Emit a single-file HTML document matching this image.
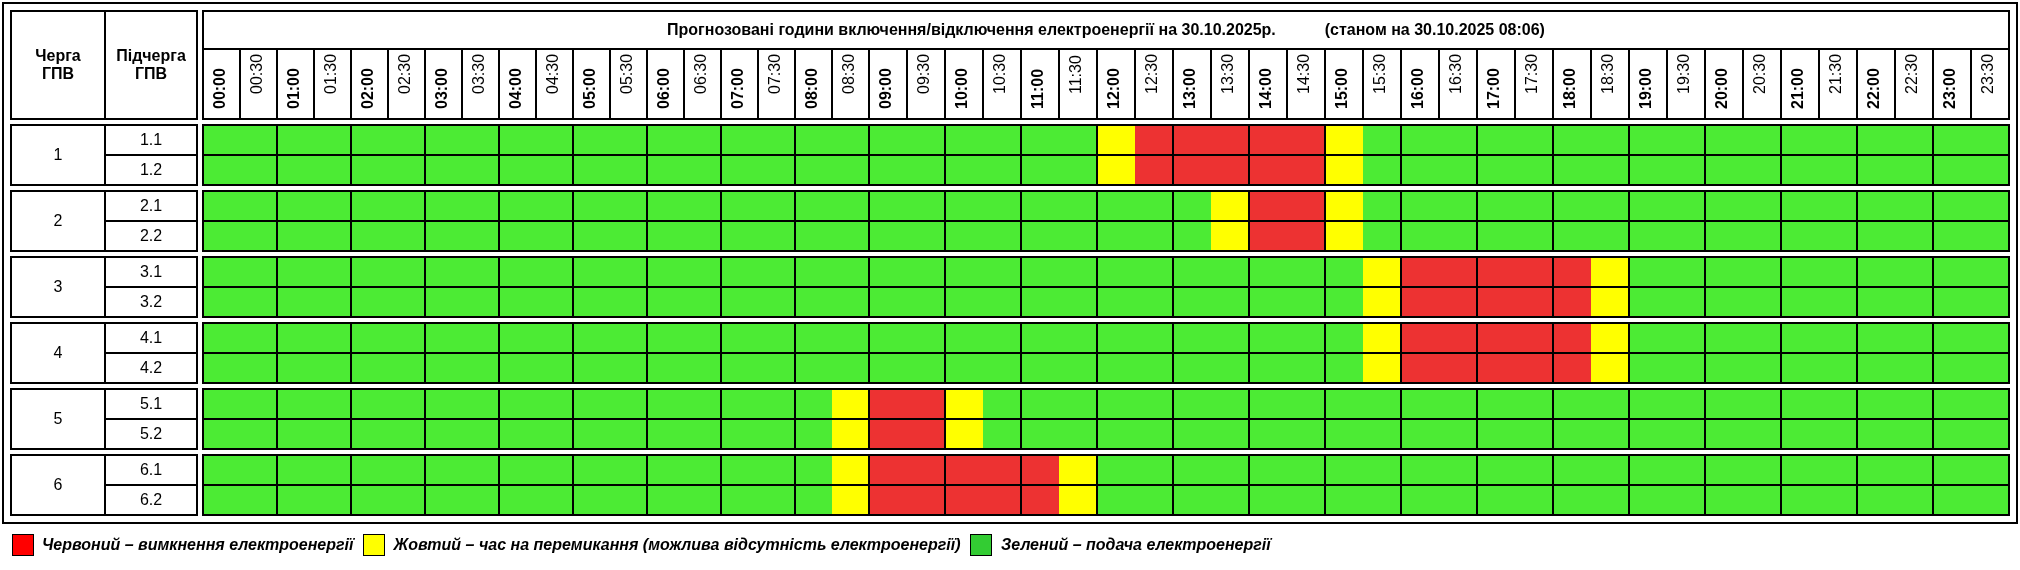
<!DOCTYPE html>
<html><head><meta charset="utf-8"><style>
html,body{margin:0;padding:0;background:#fff;width:2020px;height:570px;overflow:hidden;position:relative}
body{font-family:"Liberation Sans",sans-serif;font-size:16px;color:#000}
.b{position:absolute;box-sizing:content-box}
#tx{position:absolute;left:0;top:0;width:2020px;height:570px;will-change:transform}
.t{position:absolute}
.c{display:flex;align-items:center;justify-content:center;text-align:center}
.bo{font-weight:bold}
.v{position:absolute;white-space:nowrap;transform-origin:0 0;transform:rotate(-90deg);line-height:18px}
.lg{position:absolute;top:536px;font-weight:bold;font-style:italic;white-space:nowrap;line-height:18px}
</style></head><body>
<div class="b" style="left:2px;top:2px;width:2012px;height:518px;border:2px solid #000"></div>
<div class="b" style="left:10px;top:10px;width:184px;height:106px;border:2px solid #000"></div>
<div class="b" style="left:104px;top:10px;width:2px;height:110px;background:#000"></div>
<div class="b" style="left:202px;top:10px;width:1804px;height:106px;border:2px solid #000"></div>
<div class="b" style="left:202px;top:48px;width:1808px;height:2px;background:#000"></div>
<div class="b" style="left:239px;top:48px;width:2px;height:72px;background:#000"></div>
<div class="b" style="left:276px;top:48px;width:2px;height:72px;background:#000"></div>
<div class="b" style="left:313px;top:48px;width:2px;height:72px;background:#000"></div>
<div class="b" style="left:350px;top:48px;width:2px;height:72px;background:#000"></div>
<div class="b" style="left:387px;top:48px;width:2px;height:72px;background:#000"></div>
<div class="b" style="left:424px;top:48px;width:2px;height:72px;background:#000"></div>
<div class="b" style="left:461px;top:48px;width:2px;height:72px;background:#000"></div>
<div class="b" style="left:498px;top:48px;width:2px;height:72px;background:#000"></div>
<div class="b" style="left:535px;top:48px;width:2px;height:72px;background:#000"></div>
<div class="b" style="left:572px;top:48px;width:2px;height:72px;background:#000"></div>
<div class="b" style="left:609px;top:48px;width:2px;height:72px;background:#000"></div>
<div class="b" style="left:646px;top:48px;width:2px;height:72px;background:#000"></div>
<div class="b" style="left:683px;top:48px;width:2px;height:72px;background:#000"></div>
<div class="b" style="left:720px;top:48px;width:2px;height:72px;background:#000"></div>
<div class="b" style="left:757px;top:48px;width:2px;height:72px;background:#000"></div>
<div class="b" style="left:794px;top:48px;width:2px;height:72px;background:#000"></div>
<div class="b" style="left:831px;top:48px;width:2px;height:72px;background:#000"></div>
<div class="b" style="left:868px;top:48px;width:2px;height:72px;background:#000"></div>
<div class="b" style="left:906px;top:48px;width:2px;height:72px;background:#000"></div>
<div class="b" style="left:944px;top:48px;width:2px;height:72px;background:#000"></div>
<div class="b" style="left:982px;top:48px;width:2px;height:72px;background:#000"></div>
<div class="b" style="left:1020px;top:48px;width:2px;height:72px;background:#000"></div>
<div class="b" style="left:1058px;top:48px;width:2px;height:72px;background:#000"></div>
<div class="b" style="left:1096px;top:48px;width:2px;height:72px;background:#000"></div>
<div class="b" style="left:1134px;top:48px;width:2px;height:72px;background:#000"></div>
<div class="b" style="left:1172px;top:48px;width:2px;height:72px;background:#000"></div>
<div class="b" style="left:1210px;top:48px;width:2px;height:72px;background:#000"></div>
<div class="b" style="left:1248px;top:48px;width:2px;height:72px;background:#000"></div>
<div class="b" style="left:1286px;top:48px;width:2px;height:72px;background:#000"></div>
<div class="b" style="left:1324px;top:48px;width:2px;height:72px;background:#000"></div>
<div class="b" style="left:1362px;top:48px;width:2px;height:72px;background:#000"></div>
<div class="b" style="left:1400px;top:48px;width:2px;height:72px;background:#000"></div>
<div class="b" style="left:1438px;top:48px;width:2px;height:72px;background:#000"></div>
<div class="b" style="left:1476px;top:48px;width:2px;height:72px;background:#000"></div>
<div class="b" style="left:1514px;top:48px;width:2px;height:72px;background:#000"></div>
<div class="b" style="left:1552px;top:48px;width:2px;height:72px;background:#000"></div>
<div class="b" style="left:1590px;top:48px;width:2px;height:72px;background:#000"></div>
<div class="b" style="left:1628px;top:48px;width:2px;height:72px;background:#000"></div>
<div class="b" style="left:1666px;top:48px;width:2px;height:72px;background:#000"></div>
<div class="b" style="left:1704px;top:48px;width:2px;height:72px;background:#000"></div>
<div class="b" style="left:1742px;top:48px;width:2px;height:72px;background:#000"></div>
<div class="b" style="left:1780px;top:48px;width:2px;height:72px;background:#000"></div>
<div class="b" style="left:1818px;top:48px;width:2px;height:72px;background:#000"></div>
<div class="b" style="left:1856px;top:48px;width:2px;height:72px;background:#000"></div>
<div class="b" style="left:1894px;top:48px;width:2px;height:72px;background:#000"></div>
<div class="b" style="left:1932px;top:48px;width:2px;height:72px;background:#000"></div>
<div class="b" style="left:1970px;top:48px;width:2px;height:72px;background:#000"></div>
<div class="b" style="left:204px;top:126px;width:36px;height:58px;background:#4ceb34"></div>
<div class="b" style="left:240px;top:126px;width:36px;height:58px;background:#4ceb34"></div>
<div class="b" style="left:278px;top:126px;width:36px;height:58px;background:#4ceb34"></div>
<div class="b" style="left:314px;top:126px;width:36px;height:58px;background:#4ceb34"></div>
<div class="b" style="left:352px;top:126px;width:36px;height:58px;background:#4ceb34"></div>
<div class="b" style="left:388px;top:126px;width:36px;height:58px;background:#4ceb34"></div>
<div class="b" style="left:426px;top:126px;width:36px;height:58px;background:#4ceb34"></div>
<div class="b" style="left:462px;top:126px;width:36px;height:58px;background:#4ceb34"></div>
<div class="b" style="left:500px;top:126px;width:36px;height:58px;background:#4ceb34"></div>
<div class="b" style="left:536px;top:126px;width:36px;height:58px;background:#4ceb34"></div>
<div class="b" style="left:574px;top:126px;width:36px;height:58px;background:#4ceb34"></div>
<div class="b" style="left:610px;top:126px;width:36px;height:58px;background:#4ceb34"></div>
<div class="b" style="left:648px;top:126px;width:36px;height:58px;background:#4ceb34"></div>
<div class="b" style="left:684px;top:126px;width:36px;height:58px;background:#4ceb34"></div>
<div class="b" style="left:722px;top:126px;width:36px;height:58px;background:#4ceb34"></div>
<div class="b" style="left:758px;top:126px;width:36px;height:58px;background:#4ceb34"></div>
<div class="b" style="left:796px;top:126px;width:36px;height:58px;background:#4ceb34"></div>
<div class="b" style="left:832px;top:126px;width:36px;height:58px;background:#4ceb34"></div>
<div class="b" style="left:870px;top:126px;width:37px;height:58px;background:#4ceb34"></div>
<div class="b" style="left:907px;top:126px;width:37px;height:58px;background:#4ceb34"></div>
<div class="b" style="left:946px;top:126px;width:37px;height:58px;background:#4ceb34"></div>
<div class="b" style="left:983px;top:126px;width:37px;height:58px;background:#4ceb34"></div>
<div class="b" style="left:1022px;top:126px;width:37px;height:58px;background:#4ceb34"></div>
<div class="b" style="left:1059px;top:126px;width:37px;height:58px;background:#4ceb34"></div>
<div class="b" style="left:1098px;top:126px;width:37px;height:58px;background:#ffff00"></div>
<div class="b" style="left:1135px;top:126px;width:37px;height:58px;background:#ed3232"></div>
<div class="b" style="left:1174px;top:126px;width:37px;height:58px;background:#ed3232"></div>
<div class="b" style="left:1211px;top:126px;width:37px;height:58px;background:#ed3232"></div>
<div class="b" style="left:1250px;top:126px;width:37px;height:58px;background:#ed3232"></div>
<div class="b" style="left:1287px;top:126px;width:37px;height:58px;background:#ed3232"></div>
<div class="b" style="left:1326px;top:126px;width:37px;height:58px;background:#ffff00"></div>
<div class="b" style="left:1363px;top:126px;width:37px;height:58px;background:#4ceb34"></div>
<div class="b" style="left:1402px;top:126px;width:37px;height:58px;background:#4ceb34"></div>
<div class="b" style="left:1439px;top:126px;width:37px;height:58px;background:#4ceb34"></div>
<div class="b" style="left:1478px;top:126px;width:37px;height:58px;background:#4ceb34"></div>
<div class="b" style="left:1515px;top:126px;width:37px;height:58px;background:#4ceb34"></div>
<div class="b" style="left:1554px;top:126px;width:37px;height:58px;background:#4ceb34"></div>
<div class="b" style="left:1591px;top:126px;width:37px;height:58px;background:#4ceb34"></div>
<div class="b" style="left:1630px;top:126px;width:37px;height:58px;background:#4ceb34"></div>
<div class="b" style="left:1667px;top:126px;width:37px;height:58px;background:#4ceb34"></div>
<div class="b" style="left:1706px;top:126px;width:37px;height:58px;background:#4ceb34"></div>
<div class="b" style="left:1743px;top:126px;width:37px;height:58px;background:#4ceb34"></div>
<div class="b" style="left:1782px;top:126px;width:37px;height:58px;background:#4ceb34"></div>
<div class="b" style="left:1819px;top:126px;width:37px;height:58px;background:#4ceb34"></div>
<div class="b" style="left:1858px;top:126px;width:37px;height:58px;background:#4ceb34"></div>
<div class="b" style="left:1895px;top:126px;width:37px;height:58px;background:#4ceb34"></div>
<div class="b" style="left:1934px;top:126px;width:37px;height:58px;background:#4ceb34"></div>
<div class="b" style="left:1971px;top:126px;width:37px;height:58px;background:#4ceb34"></div>
<div class="b" style="left:10px;top:124px;width:184px;height:58px;border:2px solid #000"></div>
<div class="b" style="left:104px;top:124px;width:2px;height:62px;background:#000"></div>
<div class="b" style="left:104px;top:154px;width:94px;height:2px;background:#000"></div>
<div class="b" style="left:202px;top:124px;width:1804px;height:58px;border:2px solid #000"></div>
<div class="b" style="left:202px;top:154px;width:1808px;height:2px;background:#000"></div>
<div class="b" style="left:276px;top:124px;width:2px;height:62px;background:#000"></div>
<div class="b" style="left:350px;top:124px;width:2px;height:62px;background:#000"></div>
<div class="b" style="left:424px;top:124px;width:2px;height:62px;background:#000"></div>
<div class="b" style="left:498px;top:124px;width:2px;height:62px;background:#000"></div>
<div class="b" style="left:572px;top:124px;width:2px;height:62px;background:#000"></div>
<div class="b" style="left:646px;top:124px;width:2px;height:62px;background:#000"></div>
<div class="b" style="left:720px;top:124px;width:2px;height:62px;background:#000"></div>
<div class="b" style="left:794px;top:124px;width:2px;height:62px;background:#000"></div>
<div class="b" style="left:868px;top:124px;width:2px;height:62px;background:#000"></div>
<div class="b" style="left:944px;top:124px;width:2px;height:62px;background:#000"></div>
<div class="b" style="left:1020px;top:124px;width:2px;height:62px;background:#000"></div>
<div class="b" style="left:1096px;top:124px;width:2px;height:62px;background:#000"></div>
<div class="b" style="left:1172px;top:124px;width:2px;height:62px;background:#000"></div>
<div class="b" style="left:1248px;top:124px;width:2px;height:62px;background:#000"></div>
<div class="b" style="left:1324px;top:124px;width:2px;height:62px;background:#000"></div>
<div class="b" style="left:1400px;top:124px;width:2px;height:62px;background:#000"></div>
<div class="b" style="left:1476px;top:124px;width:2px;height:62px;background:#000"></div>
<div class="b" style="left:1552px;top:124px;width:2px;height:62px;background:#000"></div>
<div class="b" style="left:1628px;top:124px;width:2px;height:62px;background:#000"></div>
<div class="b" style="left:1704px;top:124px;width:2px;height:62px;background:#000"></div>
<div class="b" style="left:1780px;top:124px;width:2px;height:62px;background:#000"></div>
<div class="b" style="left:1856px;top:124px;width:2px;height:62px;background:#000"></div>
<div class="b" style="left:1932px;top:124px;width:2px;height:62px;background:#000"></div>
<div class="b" style="left:204px;top:192px;width:36px;height:58px;background:#4ceb34"></div>
<div class="b" style="left:240px;top:192px;width:36px;height:58px;background:#4ceb34"></div>
<div class="b" style="left:278px;top:192px;width:36px;height:58px;background:#4ceb34"></div>
<div class="b" style="left:314px;top:192px;width:36px;height:58px;background:#4ceb34"></div>
<div class="b" style="left:352px;top:192px;width:36px;height:58px;background:#4ceb34"></div>
<div class="b" style="left:388px;top:192px;width:36px;height:58px;background:#4ceb34"></div>
<div class="b" style="left:426px;top:192px;width:36px;height:58px;background:#4ceb34"></div>
<div class="b" style="left:462px;top:192px;width:36px;height:58px;background:#4ceb34"></div>
<div class="b" style="left:500px;top:192px;width:36px;height:58px;background:#4ceb34"></div>
<div class="b" style="left:536px;top:192px;width:36px;height:58px;background:#4ceb34"></div>
<div class="b" style="left:574px;top:192px;width:36px;height:58px;background:#4ceb34"></div>
<div class="b" style="left:610px;top:192px;width:36px;height:58px;background:#4ceb34"></div>
<div class="b" style="left:648px;top:192px;width:36px;height:58px;background:#4ceb34"></div>
<div class="b" style="left:684px;top:192px;width:36px;height:58px;background:#4ceb34"></div>
<div class="b" style="left:722px;top:192px;width:36px;height:58px;background:#4ceb34"></div>
<div class="b" style="left:758px;top:192px;width:36px;height:58px;background:#4ceb34"></div>
<div class="b" style="left:796px;top:192px;width:36px;height:58px;background:#4ceb34"></div>
<div class="b" style="left:832px;top:192px;width:36px;height:58px;background:#4ceb34"></div>
<div class="b" style="left:870px;top:192px;width:37px;height:58px;background:#4ceb34"></div>
<div class="b" style="left:907px;top:192px;width:37px;height:58px;background:#4ceb34"></div>
<div class="b" style="left:946px;top:192px;width:37px;height:58px;background:#4ceb34"></div>
<div class="b" style="left:983px;top:192px;width:37px;height:58px;background:#4ceb34"></div>
<div class="b" style="left:1022px;top:192px;width:37px;height:58px;background:#4ceb34"></div>
<div class="b" style="left:1059px;top:192px;width:37px;height:58px;background:#4ceb34"></div>
<div class="b" style="left:1098px;top:192px;width:37px;height:58px;background:#4ceb34"></div>
<div class="b" style="left:1135px;top:192px;width:37px;height:58px;background:#4ceb34"></div>
<div class="b" style="left:1174px;top:192px;width:37px;height:58px;background:#4ceb34"></div>
<div class="b" style="left:1211px;top:192px;width:37px;height:58px;background:#ffff00"></div>
<div class="b" style="left:1250px;top:192px;width:37px;height:58px;background:#ed3232"></div>
<div class="b" style="left:1287px;top:192px;width:37px;height:58px;background:#ed3232"></div>
<div class="b" style="left:1326px;top:192px;width:37px;height:58px;background:#ffff00"></div>
<div class="b" style="left:1363px;top:192px;width:37px;height:58px;background:#4ceb34"></div>
<div class="b" style="left:1402px;top:192px;width:37px;height:58px;background:#4ceb34"></div>
<div class="b" style="left:1439px;top:192px;width:37px;height:58px;background:#4ceb34"></div>
<div class="b" style="left:1478px;top:192px;width:37px;height:58px;background:#4ceb34"></div>
<div class="b" style="left:1515px;top:192px;width:37px;height:58px;background:#4ceb34"></div>
<div class="b" style="left:1554px;top:192px;width:37px;height:58px;background:#4ceb34"></div>
<div class="b" style="left:1591px;top:192px;width:37px;height:58px;background:#4ceb34"></div>
<div class="b" style="left:1630px;top:192px;width:37px;height:58px;background:#4ceb34"></div>
<div class="b" style="left:1667px;top:192px;width:37px;height:58px;background:#4ceb34"></div>
<div class="b" style="left:1706px;top:192px;width:37px;height:58px;background:#4ceb34"></div>
<div class="b" style="left:1743px;top:192px;width:37px;height:58px;background:#4ceb34"></div>
<div class="b" style="left:1782px;top:192px;width:37px;height:58px;background:#4ceb34"></div>
<div class="b" style="left:1819px;top:192px;width:37px;height:58px;background:#4ceb34"></div>
<div class="b" style="left:1858px;top:192px;width:37px;height:58px;background:#4ceb34"></div>
<div class="b" style="left:1895px;top:192px;width:37px;height:58px;background:#4ceb34"></div>
<div class="b" style="left:1934px;top:192px;width:37px;height:58px;background:#4ceb34"></div>
<div class="b" style="left:1971px;top:192px;width:37px;height:58px;background:#4ceb34"></div>
<div class="b" style="left:10px;top:190px;width:184px;height:58px;border:2px solid #000"></div>
<div class="b" style="left:104px;top:190px;width:2px;height:62px;background:#000"></div>
<div class="b" style="left:104px;top:220px;width:94px;height:2px;background:#000"></div>
<div class="b" style="left:202px;top:190px;width:1804px;height:58px;border:2px solid #000"></div>
<div class="b" style="left:202px;top:220px;width:1808px;height:2px;background:#000"></div>
<div class="b" style="left:276px;top:190px;width:2px;height:62px;background:#000"></div>
<div class="b" style="left:350px;top:190px;width:2px;height:62px;background:#000"></div>
<div class="b" style="left:424px;top:190px;width:2px;height:62px;background:#000"></div>
<div class="b" style="left:498px;top:190px;width:2px;height:62px;background:#000"></div>
<div class="b" style="left:572px;top:190px;width:2px;height:62px;background:#000"></div>
<div class="b" style="left:646px;top:190px;width:2px;height:62px;background:#000"></div>
<div class="b" style="left:720px;top:190px;width:2px;height:62px;background:#000"></div>
<div class="b" style="left:794px;top:190px;width:2px;height:62px;background:#000"></div>
<div class="b" style="left:868px;top:190px;width:2px;height:62px;background:#000"></div>
<div class="b" style="left:944px;top:190px;width:2px;height:62px;background:#000"></div>
<div class="b" style="left:1020px;top:190px;width:2px;height:62px;background:#000"></div>
<div class="b" style="left:1096px;top:190px;width:2px;height:62px;background:#000"></div>
<div class="b" style="left:1172px;top:190px;width:2px;height:62px;background:#000"></div>
<div class="b" style="left:1248px;top:190px;width:2px;height:62px;background:#000"></div>
<div class="b" style="left:1324px;top:190px;width:2px;height:62px;background:#000"></div>
<div class="b" style="left:1400px;top:190px;width:2px;height:62px;background:#000"></div>
<div class="b" style="left:1476px;top:190px;width:2px;height:62px;background:#000"></div>
<div class="b" style="left:1552px;top:190px;width:2px;height:62px;background:#000"></div>
<div class="b" style="left:1628px;top:190px;width:2px;height:62px;background:#000"></div>
<div class="b" style="left:1704px;top:190px;width:2px;height:62px;background:#000"></div>
<div class="b" style="left:1780px;top:190px;width:2px;height:62px;background:#000"></div>
<div class="b" style="left:1856px;top:190px;width:2px;height:62px;background:#000"></div>
<div class="b" style="left:1932px;top:190px;width:2px;height:62px;background:#000"></div>
<div class="b" style="left:204px;top:258px;width:36px;height:58px;background:#4ceb34"></div>
<div class="b" style="left:240px;top:258px;width:36px;height:58px;background:#4ceb34"></div>
<div class="b" style="left:278px;top:258px;width:36px;height:58px;background:#4ceb34"></div>
<div class="b" style="left:314px;top:258px;width:36px;height:58px;background:#4ceb34"></div>
<div class="b" style="left:352px;top:258px;width:36px;height:58px;background:#4ceb34"></div>
<div class="b" style="left:388px;top:258px;width:36px;height:58px;background:#4ceb34"></div>
<div class="b" style="left:426px;top:258px;width:36px;height:58px;background:#4ceb34"></div>
<div class="b" style="left:462px;top:258px;width:36px;height:58px;background:#4ceb34"></div>
<div class="b" style="left:500px;top:258px;width:36px;height:58px;background:#4ceb34"></div>
<div class="b" style="left:536px;top:258px;width:36px;height:58px;background:#4ceb34"></div>
<div class="b" style="left:574px;top:258px;width:36px;height:58px;background:#4ceb34"></div>
<div class="b" style="left:610px;top:258px;width:36px;height:58px;background:#4ceb34"></div>
<div class="b" style="left:648px;top:258px;width:36px;height:58px;background:#4ceb34"></div>
<div class="b" style="left:684px;top:258px;width:36px;height:58px;background:#4ceb34"></div>
<div class="b" style="left:722px;top:258px;width:36px;height:58px;background:#4ceb34"></div>
<div class="b" style="left:758px;top:258px;width:36px;height:58px;background:#4ceb34"></div>
<div class="b" style="left:796px;top:258px;width:36px;height:58px;background:#4ceb34"></div>
<div class="b" style="left:832px;top:258px;width:36px;height:58px;background:#4ceb34"></div>
<div class="b" style="left:870px;top:258px;width:37px;height:58px;background:#4ceb34"></div>
<div class="b" style="left:907px;top:258px;width:37px;height:58px;background:#4ceb34"></div>
<div class="b" style="left:946px;top:258px;width:37px;height:58px;background:#4ceb34"></div>
<div class="b" style="left:983px;top:258px;width:37px;height:58px;background:#4ceb34"></div>
<div class="b" style="left:1022px;top:258px;width:37px;height:58px;background:#4ceb34"></div>
<div class="b" style="left:1059px;top:258px;width:37px;height:58px;background:#4ceb34"></div>
<div class="b" style="left:1098px;top:258px;width:37px;height:58px;background:#4ceb34"></div>
<div class="b" style="left:1135px;top:258px;width:37px;height:58px;background:#4ceb34"></div>
<div class="b" style="left:1174px;top:258px;width:37px;height:58px;background:#4ceb34"></div>
<div class="b" style="left:1211px;top:258px;width:37px;height:58px;background:#4ceb34"></div>
<div class="b" style="left:1250px;top:258px;width:37px;height:58px;background:#4ceb34"></div>
<div class="b" style="left:1287px;top:258px;width:37px;height:58px;background:#4ceb34"></div>
<div class="b" style="left:1326px;top:258px;width:37px;height:58px;background:#4ceb34"></div>
<div class="b" style="left:1363px;top:258px;width:37px;height:58px;background:#ffff00"></div>
<div class="b" style="left:1402px;top:258px;width:37px;height:58px;background:#ed3232"></div>
<div class="b" style="left:1439px;top:258px;width:37px;height:58px;background:#ed3232"></div>
<div class="b" style="left:1478px;top:258px;width:37px;height:58px;background:#ed3232"></div>
<div class="b" style="left:1515px;top:258px;width:37px;height:58px;background:#ed3232"></div>
<div class="b" style="left:1554px;top:258px;width:37px;height:58px;background:#ed3232"></div>
<div class="b" style="left:1591px;top:258px;width:37px;height:58px;background:#ffff00"></div>
<div class="b" style="left:1630px;top:258px;width:37px;height:58px;background:#4ceb34"></div>
<div class="b" style="left:1667px;top:258px;width:37px;height:58px;background:#4ceb34"></div>
<div class="b" style="left:1706px;top:258px;width:37px;height:58px;background:#4ceb34"></div>
<div class="b" style="left:1743px;top:258px;width:37px;height:58px;background:#4ceb34"></div>
<div class="b" style="left:1782px;top:258px;width:37px;height:58px;background:#4ceb34"></div>
<div class="b" style="left:1819px;top:258px;width:37px;height:58px;background:#4ceb34"></div>
<div class="b" style="left:1858px;top:258px;width:37px;height:58px;background:#4ceb34"></div>
<div class="b" style="left:1895px;top:258px;width:37px;height:58px;background:#4ceb34"></div>
<div class="b" style="left:1934px;top:258px;width:37px;height:58px;background:#4ceb34"></div>
<div class="b" style="left:1971px;top:258px;width:37px;height:58px;background:#4ceb34"></div>
<div class="b" style="left:10px;top:256px;width:184px;height:58px;border:2px solid #000"></div>
<div class="b" style="left:104px;top:256px;width:2px;height:62px;background:#000"></div>
<div class="b" style="left:104px;top:286px;width:94px;height:2px;background:#000"></div>
<div class="b" style="left:202px;top:256px;width:1804px;height:58px;border:2px solid #000"></div>
<div class="b" style="left:202px;top:286px;width:1808px;height:2px;background:#000"></div>
<div class="b" style="left:276px;top:256px;width:2px;height:62px;background:#000"></div>
<div class="b" style="left:350px;top:256px;width:2px;height:62px;background:#000"></div>
<div class="b" style="left:424px;top:256px;width:2px;height:62px;background:#000"></div>
<div class="b" style="left:498px;top:256px;width:2px;height:62px;background:#000"></div>
<div class="b" style="left:572px;top:256px;width:2px;height:62px;background:#000"></div>
<div class="b" style="left:646px;top:256px;width:2px;height:62px;background:#000"></div>
<div class="b" style="left:720px;top:256px;width:2px;height:62px;background:#000"></div>
<div class="b" style="left:794px;top:256px;width:2px;height:62px;background:#000"></div>
<div class="b" style="left:868px;top:256px;width:2px;height:62px;background:#000"></div>
<div class="b" style="left:944px;top:256px;width:2px;height:62px;background:#000"></div>
<div class="b" style="left:1020px;top:256px;width:2px;height:62px;background:#000"></div>
<div class="b" style="left:1096px;top:256px;width:2px;height:62px;background:#000"></div>
<div class="b" style="left:1172px;top:256px;width:2px;height:62px;background:#000"></div>
<div class="b" style="left:1248px;top:256px;width:2px;height:62px;background:#000"></div>
<div class="b" style="left:1324px;top:256px;width:2px;height:62px;background:#000"></div>
<div class="b" style="left:1400px;top:256px;width:2px;height:62px;background:#000"></div>
<div class="b" style="left:1476px;top:256px;width:2px;height:62px;background:#000"></div>
<div class="b" style="left:1552px;top:256px;width:2px;height:62px;background:#000"></div>
<div class="b" style="left:1628px;top:256px;width:2px;height:62px;background:#000"></div>
<div class="b" style="left:1704px;top:256px;width:2px;height:62px;background:#000"></div>
<div class="b" style="left:1780px;top:256px;width:2px;height:62px;background:#000"></div>
<div class="b" style="left:1856px;top:256px;width:2px;height:62px;background:#000"></div>
<div class="b" style="left:1932px;top:256px;width:2px;height:62px;background:#000"></div>
<div class="b" style="left:204px;top:324px;width:36px;height:58px;background:#4ceb34"></div>
<div class="b" style="left:240px;top:324px;width:36px;height:58px;background:#4ceb34"></div>
<div class="b" style="left:278px;top:324px;width:36px;height:58px;background:#4ceb34"></div>
<div class="b" style="left:314px;top:324px;width:36px;height:58px;background:#4ceb34"></div>
<div class="b" style="left:352px;top:324px;width:36px;height:58px;background:#4ceb34"></div>
<div class="b" style="left:388px;top:324px;width:36px;height:58px;background:#4ceb34"></div>
<div class="b" style="left:426px;top:324px;width:36px;height:58px;background:#4ceb34"></div>
<div class="b" style="left:462px;top:324px;width:36px;height:58px;background:#4ceb34"></div>
<div class="b" style="left:500px;top:324px;width:36px;height:58px;background:#4ceb34"></div>
<div class="b" style="left:536px;top:324px;width:36px;height:58px;background:#4ceb34"></div>
<div class="b" style="left:574px;top:324px;width:36px;height:58px;background:#4ceb34"></div>
<div class="b" style="left:610px;top:324px;width:36px;height:58px;background:#4ceb34"></div>
<div class="b" style="left:648px;top:324px;width:36px;height:58px;background:#4ceb34"></div>
<div class="b" style="left:684px;top:324px;width:36px;height:58px;background:#4ceb34"></div>
<div class="b" style="left:722px;top:324px;width:36px;height:58px;background:#4ceb34"></div>
<div class="b" style="left:758px;top:324px;width:36px;height:58px;background:#4ceb34"></div>
<div class="b" style="left:796px;top:324px;width:36px;height:58px;background:#4ceb34"></div>
<div class="b" style="left:832px;top:324px;width:36px;height:58px;background:#4ceb34"></div>
<div class="b" style="left:870px;top:324px;width:37px;height:58px;background:#4ceb34"></div>
<div class="b" style="left:907px;top:324px;width:37px;height:58px;background:#4ceb34"></div>
<div class="b" style="left:946px;top:324px;width:37px;height:58px;background:#4ceb34"></div>
<div class="b" style="left:983px;top:324px;width:37px;height:58px;background:#4ceb34"></div>
<div class="b" style="left:1022px;top:324px;width:37px;height:58px;background:#4ceb34"></div>
<div class="b" style="left:1059px;top:324px;width:37px;height:58px;background:#4ceb34"></div>
<div class="b" style="left:1098px;top:324px;width:37px;height:58px;background:#4ceb34"></div>
<div class="b" style="left:1135px;top:324px;width:37px;height:58px;background:#4ceb34"></div>
<div class="b" style="left:1174px;top:324px;width:37px;height:58px;background:#4ceb34"></div>
<div class="b" style="left:1211px;top:324px;width:37px;height:58px;background:#4ceb34"></div>
<div class="b" style="left:1250px;top:324px;width:37px;height:58px;background:#4ceb34"></div>
<div class="b" style="left:1287px;top:324px;width:37px;height:58px;background:#4ceb34"></div>
<div class="b" style="left:1326px;top:324px;width:37px;height:58px;background:#4ceb34"></div>
<div class="b" style="left:1363px;top:324px;width:37px;height:58px;background:#ffff00"></div>
<div class="b" style="left:1402px;top:324px;width:37px;height:58px;background:#ed3232"></div>
<div class="b" style="left:1439px;top:324px;width:37px;height:58px;background:#ed3232"></div>
<div class="b" style="left:1478px;top:324px;width:37px;height:58px;background:#ed3232"></div>
<div class="b" style="left:1515px;top:324px;width:37px;height:58px;background:#ed3232"></div>
<div class="b" style="left:1554px;top:324px;width:37px;height:58px;background:#ed3232"></div>
<div class="b" style="left:1591px;top:324px;width:37px;height:58px;background:#ffff00"></div>
<div class="b" style="left:1630px;top:324px;width:37px;height:58px;background:#4ceb34"></div>
<div class="b" style="left:1667px;top:324px;width:37px;height:58px;background:#4ceb34"></div>
<div class="b" style="left:1706px;top:324px;width:37px;height:58px;background:#4ceb34"></div>
<div class="b" style="left:1743px;top:324px;width:37px;height:58px;background:#4ceb34"></div>
<div class="b" style="left:1782px;top:324px;width:37px;height:58px;background:#4ceb34"></div>
<div class="b" style="left:1819px;top:324px;width:37px;height:58px;background:#4ceb34"></div>
<div class="b" style="left:1858px;top:324px;width:37px;height:58px;background:#4ceb34"></div>
<div class="b" style="left:1895px;top:324px;width:37px;height:58px;background:#4ceb34"></div>
<div class="b" style="left:1934px;top:324px;width:37px;height:58px;background:#4ceb34"></div>
<div class="b" style="left:1971px;top:324px;width:37px;height:58px;background:#4ceb34"></div>
<div class="b" style="left:10px;top:322px;width:184px;height:58px;border:2px solid #000"></div>
<div class="b" style="left:104px;top:322px;width:2px;height:62px;background:#000"></div>
<div class="b" style="left:104px;top:352px;width:94px;height:2px;background:#000"></div>
<div class="b" style="left:202px;top:322px;width:1804px;height:58px;border:2px solid #000"></div>
<div class="b" style="left:202px;top:352px;width:1808px;height:2px;background:#000"></div>
<div class="b" style="left:276px;top:322px;width:2px;height:62px;background:#000"></div>
<div class="b" style="left:350px;top:322px;width:2px;height:62px;background:#000"></div>
<div class="b" style="left:424px;top:322px;width:2px;height:62px;background:#000"></div>
<div class="b" style="left:498px;top:322px;width:2px;height:62px;background:#000"></div>
<div class="b" style="left:572px;top:322px;width:2px;height:62px;background:#000"></div>
<div class="b" style="left:646px;top:322px;width:2px;height:62px;background:#000"></div>
<div class="b" style="left:720px;top:322px;width:2px;height:62px;background:#000"></div>
<div class="b" style="left:794px;top:322px;width:2px;height:62px;background:#000"></div>
<div class="b" style="left:868px;top:322px;width:2px;height:62px;background:#000"></div>
<div class="b" style="left:944px;top:322px;width:2px;height:62px;background:#000"></div>
<div class="b" style="left:1020px;top:322px;width:2px;height:62px;background:#000"></div>
<div class="b" style="left:1096px;top:322px;width:2px;height:62px;background:#000"></div>
<div class="b" style="left:1172px;top:322px;width:2px;height:62px;background:#000"></div>
<div class="b" style="left:1248px;top:322px;width:2px;height:62px;background:#000"></div>
<div class="b" style="left:1324px;top:322px;width:2px;height:62px;background:#000"></div>
<div class="b" style="left:1400px;top:322px;width:2px;height:62px;background:#000"></div>
<div class="b" style="left:1476px;top:322px;width:2px;height:62px;background:#000"></div>
<div class="b" style="left:1552px;top:322px;width:2px;height:62px;background:#000"></div>
<div class="b" style="left:1628px;top:322px;width:2px;height:62px;background:#000"></div>
<div class="b" style="left:1704px;top:322px;width:2px;height:62px;background:#000"></div>
<div class="b" style="left:1780px;top:322px;width:2px;height:62px;background:#000"></div>
<div class="b" style="left:1856px;top:322px;width:2px;height:62px;background:#000"></div>
<div class="b" style="left:1932px;top:322px;width:2px;height:62px;background:#000"></div>
<div class="b" style="left:204px;top:390px;width:36px;height:58px;background:#4ceb34"></div>
<div class="b" style="left:240px;top:390px;width:36px;height:58px;background:#4ceb34"></div>
<div class="b" style="left:278px;top:390px;width:36px;height:58px;background:#4ceb34"></div>
<div class="b" style="left:314px;top:390px;width:36px;height:58px;background:#4ceb34"></div>
<div class="b" style="left:352px;top:390px;width:36px;height:58px;background:#4ceb34"></div>
<div class="b" style="left:388px;top:390px;width:36px;height:58px;background:#4ceb34"></div>
<div class="b" style="left:426px;top:390px;width:36px;height:58px;background:#4ceb34"></div>
<div class="b" style="left:462px;top:390px;width:36px;height:58px;background:#4ceb34"></div>
<div class="b" style="left:500px;top:390px;width:36px;height:58px;background:#4ceb34"></div>
<div class="b" style="left:536px;top:390px;width:36px;height:58px;background:#4ceb34"></div>
<div class="b" style="left:574px;top:390px;width:36px;height:58px;background:#4ceb34"></div>
<div class="b" style="left:610px;top:390px;width:36px;height:58px;background:#4ceb34"></div>
<div class="b" style="left:648px;top:390px;width:36px;height:58px;background:#4ceb34"></div>
<div class="b" style="left:684px;top:390px;width:36px;height:58px;background:#4ceb34"></div>
<div class="b" style="left:722px;top:390px;width:36px;height:58px;background:#4ceb34"></div>
<div class="b" style="left:758px;top:390px;width:36px;height:58px;background:#4ceb34"></div>
<div class="b" style="left:796px;top:390px;width:36px;height:58px;background:#4ceb34"></div>
<div class="b" style="left:832px;top:390px;width:36px;height:58px;background:#ffff00"></div>
<div class="b" style="left:870px;top:390px;width:37px;height:58px;background:#ed3232"></div>
<div class="b" style="left:907px;top:390px;width:37px;height:58px;background:#ed3232"></div>
<div class="b" style="left:946px;top:390px;width:37px;height:58px;background:#ffff00"></div>
<div class="b" style="left:983px;top:390px;width:37px;height:58px;background:#4ceb34"></div>
<div class="b" style="left:1022px;top:390px;width:37px;height:58px;background:#4ceb34"></div>
<div class="b" style="left:1059px;top:390px;width:37px;height:58px;background:#4ceb34"></div>
<div class="b" style="left:1098px;top:390px;width:37px;height:58px;background:#4ceb34"></div>
<div class="b" style="left:1135px;top:390px;width:37px;height:58px;background:#4ceb34"></div>
<div class="b" style="left:1174px;top:390px;width:37px;height:58px;background:#4ceb34"></div>
<div class="b" style="left:1211px;top:390px;width:37px;height:58px;background:#4ceb34"></div>
<div class="b" style="left:1250px;top:390px;width:37px;height:58px;background:#4ceb34"></div>
<div class="b" style="left:1287px;top:390px;width:37px;height:58px;background:#4ceb34"></div>
<div class="b" style="left:1326px;top:390px;width:37px;height:58px;background:#4ceb34"></div>
<div class="b" style="left:1363px;top:390px;width:37px;height:58px;background:#4ceb34"></div>
<div class="b" style="left:1402px;top:390px;width:37px;height:58px;background:#4ceb34"></div>
<div class="b" style="left:1439px;top:390px;width:37px;height:58px;background:#4ceb34"></div>
<div class="b" style="left:1478px;top:390px;width:37px;height:58px;background:#4ceb34"></div>
<div class="b" style="left:1515px;top:390px;width:37px;height:58px;background:#4ceb34"></div>
<div class="b" style="left:1554px;top:390px;width:37px;height:58px;background:#4ceb34"></div>
<div class="b" style="left:1591px;top:390px;width:37px;height:58px;background:#4ceb34"></div>
<div class="b" style="left:1630px;top:390px;width:37px;height:58px;background:#4ceb34"></div>
<div class="b" style="left:1667px;top:390px;width:37px;height:58px;background:#4ceb34"></div>
<div class="b" style="left:1706px;top:390px;width:37px;height:58px;background:#4ceb34"></div>
<div class="b" style="left:1743px;top:390px;width:37px;height:58px;background:#4ceb34"></div>
<div class="b" style="left:1782px;top:390px;width:37px;height:58px;background:#4ceb34"></div>
<div class="b" style="left:1819px;top:390px;width:37px;height:58px;background:#4ceb34"></div>
<div class="b" style="left:1858px;top:390px;width:37px;height:58px;background:#4ceb34"></div>
<div class="b" style="left:1895px;top:390px;width:37px;height:58px;background:#4ceb34"></div>
<div class="b" style="left:1934px;top:390px;width:37px;height:58px;background:#4ceb34"></div>
<div class="b" style="left:1971px;top:390px;width:37px;height:58px;background:#4ceb34"></div>
<div class="b" style="left:10px;top:388px;width:184px;height:58px;border:2px solid #000"></div>
<div class="b" style="left:104px;top:388px;width:2px;height:62px;background:#000"></div>
<div class="b" style="left:104px;top:418px;width:94px;height:2px;background:#000"></div>
<div class="b" style="left:202px;top:388px;width:1804px;height:58px;border:2px solid #000"></div>
<div class="b" style="left:202px;top:418px;width:1808px;height:2px;background:#000"></div>
<div class="b" style="left:276px;top:388px;width:2px;height:62px;background:#000"></div>
<div class="b" style="left:350px;top:388px;width:2px;height:62px;background:#000"></div>
<div class="b" style="left:424px;top:388px;width:2px;height:62px;background:#000"></div>
<div class="b" style="left:498px;top:388px;width:2px;height:62px;background:#000"></div>
<div class="b" style="left:572px;top:388px;width:2px;height:62px;background:#000"></div>
<div class="b" style="left:646px;top:388px;width:2px;height:62px;background:#000"></div>
<div class="b" style="left:720px;top:388px;width:2px;height:62px;background:#000"></div>
<div class="b" style="left:794px;top:388px;width:2px;height:62px;background:#000"></div>
<div class="b" style="left:868px;top:388px;width:2px;height:62px;background:#000"></div>
<div class="b" style="left:944px;top:388px;width:2px;height:62px;background:#000"></div>
<div class="b" style="left:1020px;top:388px;width:2px;height:62px;background:#000"></div>
<div class="b" style="left:1096px;top:388px;width:2px;height:62px;background:#000"></div>
<div class="b" style="left:1172px;top:388px;width:2px;height:62px;background:#000"></div>
<div class="b" style="left:1248px;top:388px;width:2px;height:62px;background:#000"></div>
<div class="b" style="left:1324px;top:388px;width:2px;height:62px;background:#000"></div>
<div class="b" style="left:1400px;top:388px;width:2px;height:62px;background:#000"></div>
<div class="b" style="left:1476px;top:388px;width:2px;height:62px;background:#000"></div>
<div class="b" style="left:1552px;top:388px;width:2px;height:62px;background:#000"></div>
<div class="b" style="left:1628px;top:388px;width:2px;height:62px;background:#000"></div>
<div class="b" style="left:1704px;top:388px;width:2px;height:62px;background:#000"></div>
<div class="b" style="left:1780px;top:388px;width:2px;height:62px;background:#000"></div>
<div class="b" style="left:1856px;top:388px;width:2px;height:62px;background:#000"></div>
<div class="b" style="left:1932px;top:388px;width:2px;height:62px;background:#000"></div>
<div class="b" style="left:204px;top:456px;width:36px;height:58px;background:#4ceb34"></div>
<div class="b" style="left:240px;top:456px;width:36px;height:58px;background:#4ceb34"></div>
<div class="b" style="left:278px;top:456px;width:36px;height:58px;background:#4ceb34"></div>
<div class="b" style="left:314px;top:456px;width:36px;height:58px;background:#4ceb34"></div>
<div class="b" style="left:352px;top:456px;width:36px;height:58px;background:#4ceb34"></div>
<div class="b" style="left:388px;top:456px;width:36px;height:58px;background:#4ceb34"></div>
<div class="b" style="left:426px;top:456px;width:36px;height:58px;background:#4ceb34"></div>
<div class="b" style="left:462px;top:456px;width:36px;height:58px;background:#4ceb34"></div>
<div class="b" style="left:500px;top:456px;width:36px;height:58px;background:#4ceb34"></div>
<div class="b" style="left:536px;top:456px;width:36px;height:58px;background:#4ceb34"></div>
<div class="b" style="left:574px;top:456px;width:36px;height:58px;background:#4ceb34"></div>
<div class="b" style="left:610px;top:456px;width:36px;height:58px;background:#4ceb34"></div>
<div class="b" style="left:648px;top:456px;width:36px;height:58px;background:#4ceb34"></div>
<div class="b" style="left:684px;top:456px;width:36px;height:58px;background:#4ceb34"></div>
<div class="b" style="left:722px;top:456px;width:36px;height:58px;background:#4ceb34"></div>
<div class="b" style="left:758px;top:456px;width:36px;height:58px;background:#4ceb34"></div>
<div class="b" style="left:796px;top:456px;width:36px;height:58px;background:#4ceb34"></div>
<div class="b" style="left:832px;top:456px;width:36px;height:58px;background:#ffff00"></div>
<div class="b" style="left:870px;top:456px;width:37px;height:58px;background:#ed3232"></div>
<div class="b" style="left:907px;top:456px;width:37px;height:58px;background:#ed3232"></div>
<div class="b" style="left:946px;top:456px;width:37px;height:58px;background:#ed3232"></div>
<div class="b" style="left:983px;top:456px;width:37px;height:58px;background:#ed3232"></div>
<div class="b" style="left:1022px;top:456px;width:37px;height:58px;background:#ed3232"></div>
<div class="b" style="left:1059px;top:456px;width:37px;height:58px;background:#ffff00"></div>
<div class="b" style="left:1098px;top:456px;width:37px;height:58px;background:#4ceb34"></div>
<div class="b" style="left:1135px;top:456px;width:37px;height:58px;background:#4ceb34"></div>
<div class="b" style="left:1174px;top:456px;width:37px;height:58px;background:#4ceb34"></div>
<div class="b" style="left:1211px;top:456px;width:37px;height:58px;background:#4ceb34"></div>
<div class="b" style="left:1250px;top:456px;width:37px;height:58px;background:#4ceb34"></div>
<div class="b" style="left:1287px;top:456px;width:37px;height:58px;background:#4ceb34"></div>
<div class="b" style="left:1326px;top:456px;width:37px;height:58px;background:#4ceb34"></div>
<div class="b" style="left:1363px;top:456px;width:37px;height:58px;background:#4ceb34"></div>
<div class="b" style="left:1402px;top:456px;width:37px;height:58px;background:#4ceb34"></div>
<div class="b" style="left:1439px;top:456px;width:37px;height:58px;background:#4ceb34"></div>
<div class="b" style="left:1478px;top:456px;width:37px;height:58px;background:#4ceb34"></div>
<div class="b" style="left:1515px;top:456px;width:37px;height:58px;background:#4ceb34"></div>
<div class="b" style="left:1554px;top:456px;width:37px;height:58px;background:#4ceb34"></div>
<div class="b" style="left:1591px;top:456px;width:37px;height:58px;background:#4ceb34"></div>
<div class="b" style="left:1630px;top:456px;width:37px;height:58px;background:#4ceb34"></div>
<div class="b" style="left:1667px;top:456px;width:37px;height:58px;background:#4ceb34"></div>
<div class="b" style="left:1706px;top:456px;width:37px;height:58px;background:#4ceb34"></div>
<div class="b" style="left:1743px;top:456px;width:37px;height:58px;background:#4ceb34"></div>
<div class="b" style="left:1782px;top:456px;width:37px;height:58px;background:#4ceb34"></div>
<div class="b" style="left:1819px;top:456px;width:37px;height:58px;background:#4ceb34"></div>
<div class="b" style="left:1858px;top:456px;width:37px;height:58px;background:#4ceb34"></div>
<div class="b" style="left:1895px;top:456px;width:37px;height:58px;background:#4ceb34"></div>
<div class="b" style="left:1934px;top:456px;width:37px;height:58px;background:#4ceb34"></div>
<div class="b" style="left:1971px;top:456px;width:37px;height:58px;background:#4ceb34"></div>
<div class="b" style="left:10px;top:454px;width:184px;height:58px;border:2px solid #000"></div>
<div class="b" style="left:104px;top:454px;width:2px;height:62px;background:#000"></div>
<div class="b" style="left:104px;top:484px;width:94px;height:2px;background:#000"></div>
<div class="b" style="left:202px;top:454px;width:1804px;height:58px;border:2px solid #000"></div>
<div class="b" style="left:202px;top:484px;width:1808px;height:2px;background:#000"></div>
<div class="b" style="left:276px;top:454px;width:2px;height:62px;background:#000"></div>
<div class="b" style="left:350px;top:454px;width:2px;height:62px;background:#000"></div>
<div class="b" style="left:424px;top:454px;width:2px;height:62px;background:#000"></div>
<div class="b" style="left:498px;top:454px;width:2px;height:62px;background:#000"></div>
<div class="b" style="left:572px;top:454px;width:2px;height:62px;background:#000"></div>
<div class="b" style="left:646px;top:454px;width:2px;height:62px;background:#000"></div>
<div class="b" style="left:720px;top:454px;width:2px;height:62px;background:#000"></div>
<div class="b" style="left:794px;top:454px;width:2px;height:62px;background:#000"></div>
<div class="b" style="left:868px;top:454px;width:2px;height:62px;background:#000"></div>
<div class="b" style="left:944px;top:454px;width:2px;height:62px;background:#000"></div>
<div class="b" style="left:1020px;top:454px;width:2px;height:62px;background:#000"></div>
<div class="b" style="left:1096px;top:454px;width:2px;height:62px;background:#000"></div>
<div class="b" style="left:1172px;top:454px;width:2px;height:62px;background:#000"></div>
<div class="b" style="left:1248px;top:454px;width:2px;height:62px;background:#000"></div>
<div class="b" style="left:1324px;top:454px;width:2px;height:62px;background:#000"></div>
<div class="b" style="left:1400px;top:454px;width:2px;height:62px;background:#000"></div>
<div class="b" style="left:1476px;top:454px;width:2px;height:62px;background:#000"></div>
<div class="b" style="left:1552px;top:454px;width:2px;height:62px;background:#000"></div>
<div class="b" style="left:1628px;top:454px;width:2px;height:62px;background:#000"></div>
<div class="b" style="left:1704px;top:454px;width:2px;height:62px;background:#000"></div>
<div class="b" style="left:1780px;top:454px;width:2px;height:62px;background:#000"></div>
<div class="b" style="left:1856px;top:454px;width:2px;height:62px;background:#000"></div>
<div class="b" style="left:1932px;top:454px;width:2px;height:62px;background:#000"></div>
<div class="b" style="left:12px;top:534px;width:20px;height:20px;border:1px solid #000;background:#ff0000"></div>
<div class="b" style="left:363px;top:534px;width:20px;height:20px;border:1px solid #000;background:#ffff00"></div>
<div class="b" style="left:970px;top:534px;width:20px;height:20px;border:1px solid #000;background:#33cc33"></div>
<div id="tx"><div class="t c" style="left:12px;top:126px;width:92px;height:58px">1</div>
<div class="t c" style="left:106px;top:126px;width:90px;height:28px">1.1</div>
<div class="t c" style="left:106px;top:156px;width:90px;height:28px">1.2</div>
<div class="t c" style="left:12px;top:192px;width:92px;height:58px">2</div>
<div class="t c" style="left:106px;top:192px;width:90px;height:28px">2.1</div>
<div class="t c" style="left:106px;top:222px;width:90px;height:28px">2.2</div>
<div class="t c" style="left:12px;top:258px;width:92px;height:58px">3</div>
<div class="t c" style="left:106px;top:258px;width:90px;height:28px">3.1</div>
<div class="t c" style="left:106px;top:288px;width:90px;height:28px">3.2</div>
<div class="t c" style="left:12px;top:324px;width:92px;height:58px">4</div>
<div class="t c" style="left:106px;top:324px;width:90px;height:28px">4.1</div>
<div class="t c" style="left:106px;top:354px;width:90px;height:28px">4.2</div>
<div class="t c" style="left:12px;top:390px;width:92px;height:58px">5</div>
<div class="t c" style="left:106px;top:390px;width:90px;height:28px">5.1</div>
<div class="t c" style="left:106px;top:420px;width:90px;height:28px">5.2</div>
<div class="t c" style="left:12px;top:456px;width:92px;height:58px">6</div>
<div class="t c" style="left:106px;top:456px;width:90px;height:28px">6.1</div>
<div class="t c" style="left:106px;top:486px;width:90px;height:28px">6.2</div>
<div class="t c bo" style="left:12px;top:12px;width:92px;height:106px">Черга<br>ГПВ</div>
<div class="t c bo" style="left:106px;top:12px;width:90px;height:106px">Підчерга<br>ГПВ</div>
<div class="t c bo" style="left:204px;top:12px;width:1804px;height:36px;white-space:pre">Прогнозовані години включення/відключення електроенергії на 30.10.2025р.           (станом на 30.10.2025 08:06)</div>
<span class="v bo" style="left:211px;top:108.6px">00:00</span>
<span class="v" style="left:248px;top:94px">00:30</span>
<span class="v bo" style="left:285px;top:108.6px">01:00</span>
<span class="v" style="left:322px;top:94px">01:30</span>
<span class="v bo" style="left:359px;top:108.6px">02:00</span>
<span class="v" style="left:396px;top:94px">02:30</span>
<span class="v bo" style="left:433px;top:108.6px">03:00</span>
<span class="v" style="left:470px;top:94px">03:30</span>
<span class="v bo" style="left:507px;top:108.6px">04:00</span>
<span class="v" style="left:544px;top:94px">04:30</span>
<span class="v bo" style="left:581px;top:108.6px">05:00</span>
<span class="v" style="left:618px;top:94px">05:30</span>
<span class="v bo" style="left:655px;top:108.6px">06:00</span>
<span class="v" style="left:692px;top:94px">06:30</span>
<span class="v bo" style="left:729px;top:108.6px">07:00</span>
<span class="v" style="left:766px;top:94px">07:30</span>
<span class="v bo" style="left:803px;top:108.6px">08:00</span>
<span class="v" style="left:840px;top:94px">08:30</span>
<span class="v bo" style="left:877px;top:108.6px">09:00</span>
<span class="v" style="left:915px;top:94px">09:30</span>
<span class="v bo" style="left:953px;top:108.6px">10:00</span>
<span class="v" style="left:991px;top:94px">10:30</span>
<span class="v bo" style="left:1029px;top:108.6px">11:00</span>
<span class="v" style="left:1067px;top:94px">11:30</span>
<span class="v bo" style="left:1105px;top:108.6px">12:00</span>
<span class="v" style="left:1143px;top:94px">12:30</span>
<span class="v bo" style="left:1181px;top:108.6px">13:00</span>
<span class="v" style="left:1219px;top:94px">13:30</span>
<span class="v bo" style="left:1257px;top:108.6px">14:00</span>
<span class="v" style="left:1295px;top:94px">14:30</span>
<span class="v bo" style="left:1333px;top:108.6px">15:00</span>
<span class="v" style="left:1371px;top:94px">15:30</span>
<span class="v bo" style="left:1409px;top:108.6px">16:00</span>
<span class="v" style="left:1447px;top:94px">16:30</span>
<span class="v bo" style="left:1485px;top:108.6px">17:00</span>
<span class="v" style="left:1523px;top:94px">17:30</span>
<span class="v bo" style="left:1561px;top:108.6px">18:00</span>
<span class="v" style="left:1599px;top:94px">18:30</span>
<span class="v bo" style="left:1637px;top:108.6px">19:00</span>
<span class="v" style="left:1675px;top:94px">19:30</span>
<span class="v bo" style="left:1713px;top:108.6px">20:00</span>
<span class="v" style="left:1751px;top:94px">20:30</span>
<span class="v bo" style="left:1789px;top:108.6px">21:00</span>
<span class="v" style="left:1827px;top:94px">21:30</span>
<span class="v bo" style="left:1865px;top:108.6px">22:00</span>
<span class="v" style="left:1903px;top:94px">22:30</span>
<span class="v bo" style="left:1941px;top:108.6px">23:00</span>
<span class="v" style="left:1979px;top:94px">23:30</span>
<span class="lg" style="left:42px">Червоний – вимкнення електроенергії</span>
<span class="lg" style="left:393.5px">Жовтий – час на перемикання (можлива відсутність електроенергії)</span>
<span class="lg" style="left:1001px">Зелений – подача електроенергії</span></div>
</body></html>
